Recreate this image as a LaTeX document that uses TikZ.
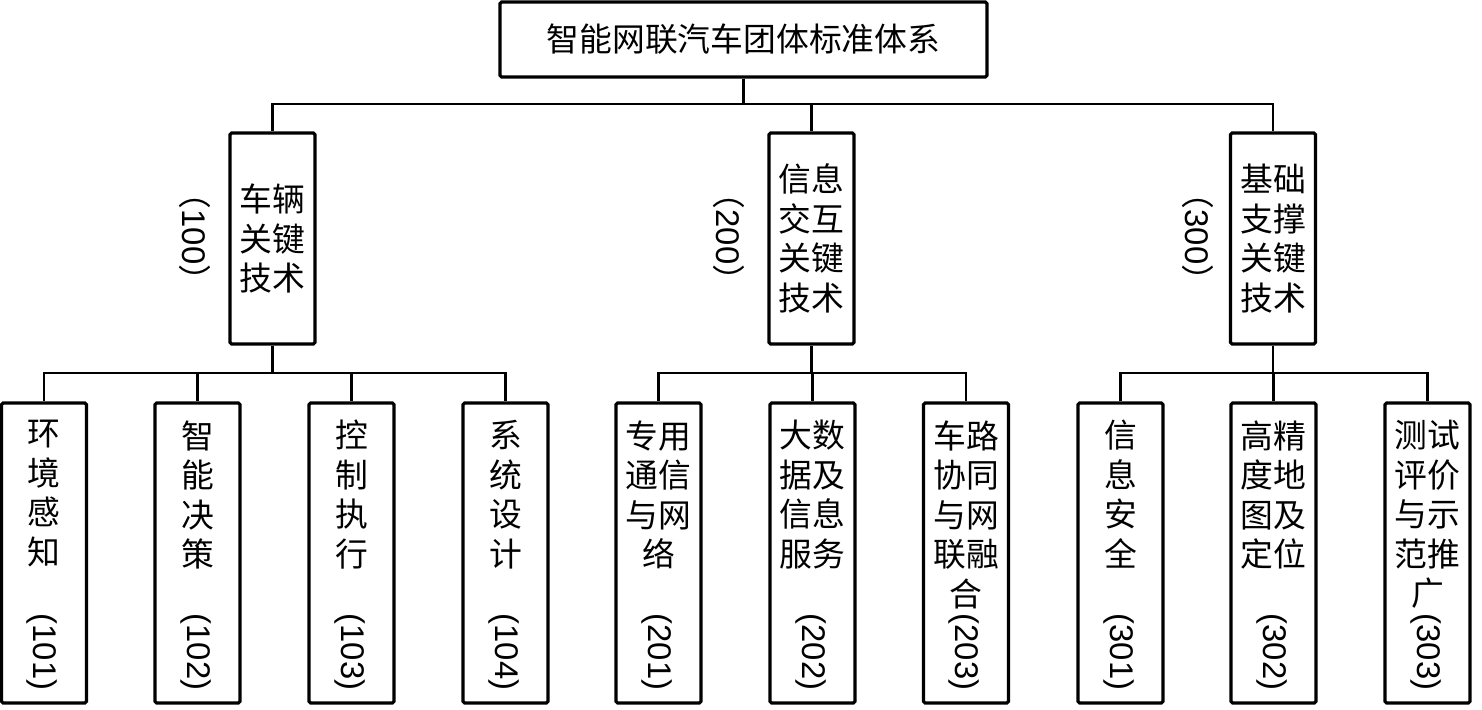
\documentclass[tikz,border=0pt]{standalone}
\usepackage{fontspec}
\setmainfont{Liberation Sans}
\newfontfamily\cjk{Noto Sans CJK SC}
\begin{document}
\begin{tikzpicture}[x=0.5pt,y=-0.5pt,
  box/.style={draw,line width=1.6pt,rounded corners=0.8pt,inner sep=0pt},
  topbox/.style={box,minimum width=243.5pt,minimum height=37.5pt,font=\cjk\fontsize{16.4}{19.75}\selectfont},
  midbox/.style={box,minimum width=42.5pt,minimum height=105.5pt,align=center,font=\cjk\fontsize{16.4}{19.75}\selectfont},
  lowbox/.style={box,minimum width=42.5pt,minimum height=150pt},
  lowtext/.style={anchor=north,inner sep=0pt,align=center,font=\cjk\fontsize{16.4}{19.75}\selectfont},
  code/.style={rotate=-90,inner sep=0pt,font=\fontsize{16.4}{19.75}\selectfont},
  link/.style={line width=1.1pt}]
\useasboundingbox (0,0) rectangle (1482,710);

% top
\node[topbox] (top) at (743.5,39.5) {智能网联汽车团体标准体系};

% middle
\node[midbox] (m1) at (272.5,238.5) {车辆\\关键\\技术};
\node[midbox] (m2) at (811.5,238.5) {信息\\交互\\关键\\技术};
\node[midbox] (m3) at (1273,238.5) {基础\\支撑\\关键\\技术};
\node[code] (c1) at (195,237) {{\cjk （}100{\cjk ）}};
\node[code] (c2) at (728.5,237) {{\cjk （}200{\cjk ）}};
\node[code] (c3) at (1198,237) {{\cjk （}300{\cjk ）}};

% bottom boxes
\node[lowbox] (b1) at (44,553) {};
\node[lowbox] (b2) at (197.5,553) {};
\node[lowbox] (b3) at (351.5,553) {};
\node[lowbox] (b4) at (505.5,553) {};
\node[lowbox] (b5) at (658.5,553) {};
\node[lowbox] (b6) at (812.5,553) {};
\node[lowbox] (b7) at (966,553) {};
\node[lowbox] (b8) at (1120.5,553) {};
\node[lowbox] (b9) at (1273.5,553) {};
\node[lowbox] (b10) at (1427.5,553) {};

\node[lowtext] (t1) at (44,420) {环\\境\\感\\知};
\node[lowtext] (t2) at (197.5,420) {智\\能\\决\\策};
\node[lowtext] (t3) at (351.5,420) {控\\制\\执\\行};
\node[lowtext] (t4) at (505.5,420) {系\\统\\设\\计};
\node[lowtext] (t5) at (658.5,420) {专用\\通信\\与网\\络};
\node[lowtext] (t6) at (812.5,420) {大数\\据及\\信息\\服务};
\node[lowtext] (t7) at (966,420) {车路\\协同\\与网\\联融\\合};
\node[lowtext] (t8) at (1120.5,420) {信\\息\\安\\全};
\node[lowtext] (t9) at (1273.5,420) {高精\\度地\\图及\\定位};
\node[lowtext] (t10) at (1427.5,420) {测试\\评价\\与示\\范推\\广};

\node[code] (d1) at (42,652) {(101)};
\node[code] (d2) at (195.5,652) {(102)};
\node[code] (d3) at (349.5,652) {(103)};
\node[code] (d4) at (503.5,652) {(104)};
\node[code] (d5) at (656.5,652) {(201)};
\node[code] (d6) at (810.5,652) {(202)};
\node[code] (d7) at (964,652) {(203)};
\node[code] (d8) at (1118.5,652) {(301)};
\node[code] (d9) at (1271.5,652) {(302)};
\node[code] (d10) at (1425.5,652) {(303)};

% connectors
\coordinate (bus0) at (743.5,104);
\draw[link] (top.south) -- (bus0) -| (m1.north);
\draw[link] (bus0) -| (m2.north);
\draw[link] (bus0) -| (m3.north);

\coordinate (bus1) at (272.5,373);
\draw[link] (m1.south) -- (bus1) -| (b1.north);
\draw[link] (bus1) -| (b2.north);
\draw[link] (bus1) -| (b3.north);
\draw[link] (bus1) -| (b4.north);

\coordinate (bus2) at (811.5,373);
\draw[link] (m2.south) -- (bus2) -| (b5.north);
\draw[link] (bus2) -| (b6.north);
\draw[link] (bus2) -| (b7.north);

\coordinate (bus3) at (1273,373);
\draw[link] (m3.south) -- (bus3) -| (b8.north);
\draw[link] (bus3) -| (b9.north);
\draw[link] (bus3) -| (b10.north);
\end{tikzpicture}
\end{document}
